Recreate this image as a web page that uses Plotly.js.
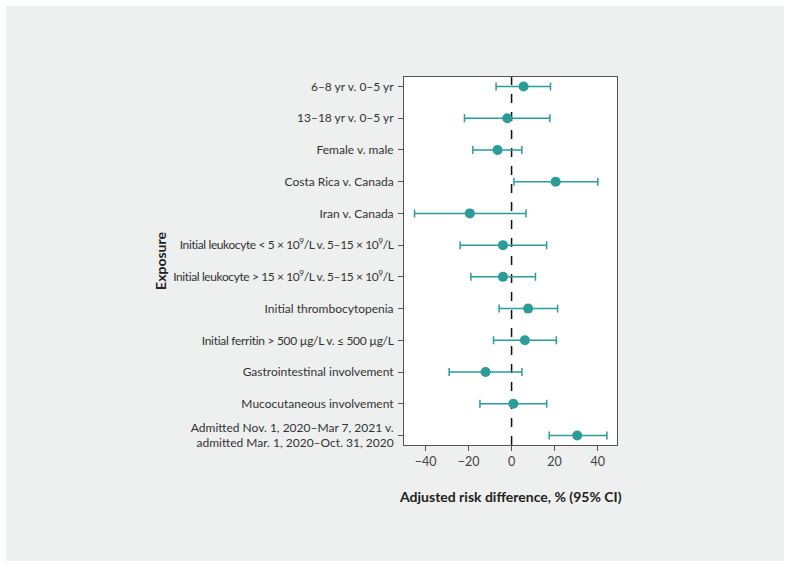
<!DOCTYPE html>
<html>
<head>
<meta charset="utf-8">
<script src="https://cdn.plot.ly/plotly-3.0.1.min.js"></script>
<style>
html,body{margin:0;padding:0;background:#ffffff;}
#wrap{position:absolute;left:0;top:0;width:791px;height:568px;background:#ffffff;}
#chart{position:absolute;left:6px;top:6px;width:778px;height:555px;}
</style>
</head>
<body>
<div id="wrap"><div id="chart"></div></div>
<script>
const categories = [
  "6–8 yr v. 0–5 yr",
  "13–18 yr v. 0–5 yr",
  "Female v. male",
  "Costa Rica v. Canada",
  "Iran v. Canada",
  "<span style=\"letter-spacing:-0.4px\">Initial leukocyte < 5 × 10<sup>9</sup>/L v. 5–15 × 10<sup>9</sup>/L</span>",
  "<span style=\"letter-spacing:-0.4px\">Initial leukocyte > 15 × 10<sup>9</sup>/L v. 5–15 × 10<sup>9</sup>/L</span>",
  "Initial thrombocytopenia",
  "<span style=\"letter-spacing:-0.3px\">Initial ferritin > 500 µg/L v. ≤ 500 µg/L</span>",
  "Gastrointestinal involvement",
  "Mucocutaneous involvement",
  "Admitted Nov. 1, 2020–Mar 7, 2021 v.<br>admitted Mar. 1, 2020–Oct. 31, 2020"
];
const estimate = [5.6, -2.0, -6.5, 20.5, -19.4, -4.0, -4.0, 7.7, 6.2, -12.1, 0.8, 30.5];
const lowerCI  = [-7.2, -21.9, -18.0, 1.1, -45.1, -23.9, -18.9, -5.8, -8.4, -29.0, -14.7, 17.5];
const upperCI  = [18.1, 17.8, 4.8, 40.1, 6.7, 16.3, 11.1, 21.4, 20.8, 4.8, 16.3, 44.3];
const xTicks = [-40, -20, 0, 20, 40];

const teal = "#2b9c98";
const font = "Lato, 'Source Sans Pro', 'Noto Sans', sans-serif";

const trace = {
  type: "scatter",
  mode: "markers",
  x: estimate,
  y: categories,
  marker: {color: teal, size: 10},
  error_x: {
    type: "data",
    symmetric: false,
    array: estimate.map((v, i) => upperCI[i] - v),
    arrayminus: estimate.map((v, i) => v - lowerCI[i]),
    color: teal,
    thickness: 1.5,
    width: 4
  },
  hoverinfo: "skip"
};

const layout = {
  width: 778,
  height: 555,
  paper_bgcolor: "#eeefef",
  plot_bgcolor: "#ffffff",
  margin: {l: 398, r: 167, t: 71, b: 116},
  showlegend: false,
  font: {family: font, size: 12, color: "#333333"},
  xaxis: {
    range: [-50, 49],
    tickvals: xTicks,
    ticktext: xTicks.map(v => v < 0 ? "−" + Math.abs(v) : String(v)),
    ticks: "outside",
    ticklen: 5,
    tickcolor: "#555555",
    showgrid: false,
    zeroline: false,
    showline: true,
    linecolor: "#555555",
    linewidth: 1,
    mirror: true,
    tickfont: {size: 12.5, color: "#444444"}
  },
  yaxis: {
    type: "category",
    categoryorder: "array",
    categoryarray: categories,
    range: [11.3, -0.3],
    ticks: "outside",
    ticklen: 5,
    tickcolor: "#555555",
    showgrid: false,
    zeroline: false,
    showline: true,
    linecolor: "#555555",
    linewidth: 1,
    mirror: true,
    ticklabelstandoff: 2,
    tickfont: {size: 12, color: "#333333"}
  },
  shapes: [{
    type: "line",
    xref: "x", yref: "paper",
    x0: 0, x1: 0, y0: 0, y1: 1,
    line: {color: "#111111", width: 1.5, dash: "dash"},
    layer: "below"
  }],
  annotations: [
    {
      text: "<b>Adjusted risk difference, % (95% CI)</b>",
      xref: "paper", yref: "paper",
      x: 0.5, y: -0.141,
      xanchor: "center", yanchor: "middle",
      showarrow: false,
      font: {size: 14, color: "#222222"}
    },
    {
      text: "<b>Exposure</b>",
      xref: "paper", yref: "paper",
      x: -1.146, y: 0.5,
      xanchor: "center", yanchor: "middle",
      textangle: -90,
      showarrow: false,
      font: {size: 14, color: "#222222"}
    }
  ]
};

Plotly.newPlot("chart", [trace], layout, {displayModeBar: false, staticPlot: true});
</script>
</body>
</html>
